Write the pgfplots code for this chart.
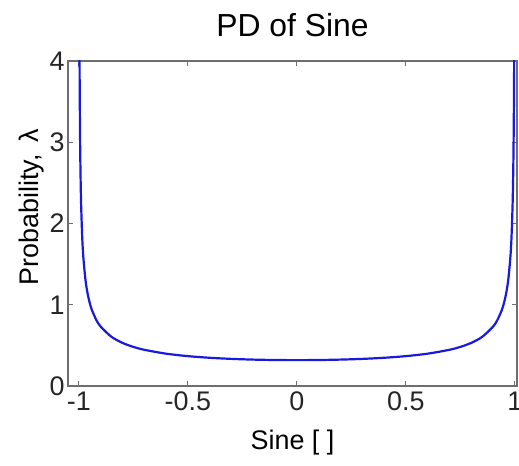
\documentclass[border=0pt]{standalone}
\usepackage{pgfplots}
\pgfplotsset{compat=1.18}
\usepackage{fontspec}
\setmainfont{Liberation Sans}
\definecolor{axgray}{RGB}{110,110,110}
\definecolor{curveblue}{RGB}{25,25,225}
\begin{document}
\begin{tikzpicture}
\begin{axis}[
  name=ax,
  scale only axis,
  width=449bp, height=325bp,
  xmin=-1.05, xmax=1.01,
  ymin=0, ymax=4,
  xtick={-1,-0.5,0,0.5,1},
  ytick={0,1,2,3,4},
  xticklabels={-1,-0.5,0,0.5,1},
  yticklabels={0,1,2,3,4},
  tick align=inside,
  major tick length=5bp,
  axis line style={axgray, line width=1.3bp},
  every tick/.style={axgray, line width=1bp},
  tick label style={font=\fontsize{27}{30}\selectfont, text=black!85},
  xticklabel style={yshift=-2bp},
  yticklabel style={xshift=0bp},
  title={PD of Sine},
  title style={font=\fontsize{32}{36}\selectfont, at={(axis description cs:0.5,1)}, anchor=base, yshift=19bp},
  xlabel={Sine [ ]},
  ylabel={Probability,\hspace{0.45em}λ},
  label style={font=\fontsize{27}{30}\selectfont},
  xlabel style={at={(axis description cs:0.5,0)}, anchor=base, yshift=-63bp},
  ylabel style={at={(axis description cs:-0.082,0.55)}, anchor=center},
]
\addplot[curveblue, line width=2.2bp, smooth] coordinates {
(-0.999,7.119) (-0.997,4.1125) (-0.995,3.1871) (-0.993,2.6950) (-0.99,2.2564)
(-0.985,1.8447) (-0.98,1.5996) (-0.97,1.3094) (-0.96,1.1368) (-0.95,1.0195)
(-0.94,0.9330) (-0.92,0.8122) (-0.9,0.7303) (-0.85,0.6043) (-0.8,0.5305)
(-0.75,0.4813) (-0.7,0.4457) (-0.6,0.3979) (-0.5,0.3676) (-0.4,0.3473)
(-0.3,0.3337) (-0.2,0.3249) (-0.1,0.3199) (0,0.3183)
(0.1,0.3199) (0.2,0.3249) (0.3,0.3337) (0.4,0.3473) (0.5,0.3676)
(0.6,0.3979) (0.7,0.4457) (0.75,0.4813) (0.8,0.5305) (0.85,0.6043)
(0.9,0.7303) (0.92,0.8122) (0.94,0.9330) (0.95,1.0195) (0.96,1.1368)
(0.97,1.3094) (0.98,1.5996) (0.985,1.8447) (0.99,2.2564) (0.993,2.6950)
(0.995,3.1871) (0.997,4.1125) (0.999,7.119)
};
\end{axis}
\pgfresetboundingbox
\path (ax.south west) ++(-68bp,-80bp) rectangle ++(519bp,466bp);
\end{tikzpicture}
\end{document}
